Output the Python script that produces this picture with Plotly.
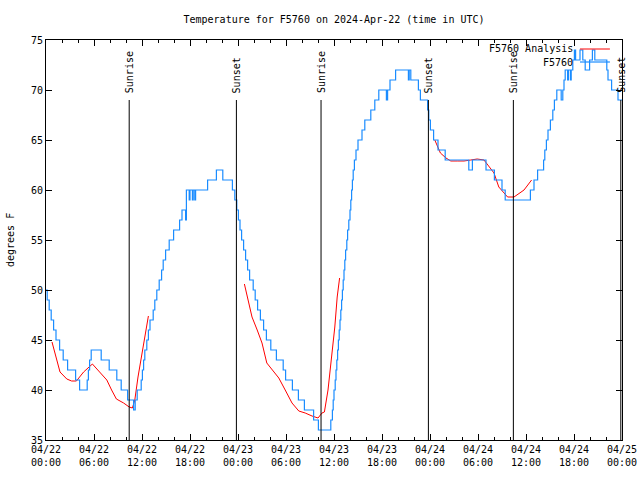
import pandas as pd
import plotly.graph_objects as go

# ---------------- data (hours after 2024-04-22 00:00 UTC) ----------------
blue_hours = [0.0, 0.15, 0.4, 0.65, 0.95, 1.25, 1.7, 2.15, 2.7, 3.7, 4.2, 5.15, 5.3, 5.45, 5.65,
              6.9, 7.9, 8.85, 9.4, 10.2, 10.95, 11.15, 11.4, 11.9, 12.05, 12.2, 12.35, 12.6, 12.8,
              13.0, 13.4, 13.6, 13.85, 14.15, 14.45, 14.65, 14.95, 15.4, 15.95, 16.7, 17.0, 17.45,
              17.55, 17.9, 18.0, 18.3, 18.4, 18.6, 18.7, 20.2, 21.3, 22.1, 23.3, 23.6, 23.85,
              24.05, 24.25, 24.45, 24.7, 24.95, 25.2, 25.45, 25.9, 26.15, 26.45, 26.8, 27.2, 27.55,
              28.1, 28.8, 29.65, 29.95, 30.8, 31.55, 32.3, 33.45, 34.05, 35.6, 35.8, 35.9, 36.0,
              36.15, 36.25, 36.35, 36.45, 36.55, 36.65, 36.75, 36.85, 36.95, 37.05, 37.15, 37.25,
              37.35, 37.45, 37.6, 37.7, 37.85, 38.0, 38.1, 38.2, 38.3, 38.4, 38.55, 38.75, 39.0,
              39.5, 39.85, 40.6, 41.1, 41.6, 42.55, 42.7, 43.0, 43.7, 45.3, 45.4, 45.6,
              46.55, 46.8, 47.7, 47.85, 48.05, 48.45, 49.0, 49.9, 52.85, 53.3, 55.0, 56.05,
              57.0, 57.4, 60.55, 61.0, 61.45, 62.2, 62.35, 62.55, 62.75, 63.05, 63.35, 63.55,
              63.85, 64.4, 64.6, 64.75, 64.9, 65.2, 65.3, 65.55, 65.65, 65.85, 66.05, 66.2, 66.75,
              67.1, 67.4, 67.95, 68.3, 68.6, 70.1, 70.25, 70.7, 71.5, 72.0]
blue_temps = [50, 49, 48, 47, 46, 45, 44, 43, 42, 41, 40, 41, 42, 43, 44,
              43, 42, 41, 40, 39, 38, 39, 40, 41, 42, 43, 44, 45, 46,
              47, 48, 49, 50, 51, 52, 53, 54, 55, 56, 57, 58, 57,
              60, 59, 60, 59, 60, 59, 60, 61, 62, 61, 60, 59, 58,
              57, 56, 55, 54, 53, 52, 51, 50, 49, 48, 47, 46, 45,
              44, 43, 42, 41, 40, 39, 38, 37, 36, 37, 38, 39, 40,
              41, 42, 43, 44, 45, 46, 47, 48, 49, 50, 51, 52,
              53, 54, 55, 56, 57, 58, 59, 60, 61, 62, 63, 64, 65,
              66, 67, 68, 69, 70, 69, 70, 71, 72, 71, 72, 71,
              70, 69, 68, 67, 66, 65, 64, 63, 62, 63, 62, 61,
              60, 59, 60, 61, 62, 63, 64, 65, 66, 67, 68, 69,
              70, 69, 70, 71, 72, 71, 72, 71, 72, 73, 74, 73, 74,
              73, 72, 73, 74, 73, 72, 71, 70, 69, 69]

red_hours = [0.75, 1.25, 1.75, 2.6, 3.2, 3.8, 4.7, 5.8, 6.75, 7.6, 8.2, 8.8, 9.7, 10.4, 10.8,
             11.1, 11.5, 12.2, 12.8, None,
             24.8, 25.25, 25.75, 26.4, 27.0, 27.6, 28.25, 29.1, 29.9, 30.75, 31.6, 32.4, 33.25,
             34.0, 34.5, 34.8, 35.25, 35.7, 36.1, 36.4, 36.7, None,
             48.6, 49.3, 50.0, 50.6, 51.4, 52.25, 53.1, 53.9, 54.75, 55.4, 56.0, 56.6, 57.25,
             57.7, 58.5, 59.1, 59.75, 60.7]
red_temps = [44.8, 43.3, 41.8, 41.1, 40.9, 40.9, 41.8, 42.6, 41.8, 41.0, 40.0, 39.1, 38.7, 38.3, 38.2,
             39.0, 41.3, 44.7, 47.4, None,
             50.6, 49.0, 47.3, 46.0, 44.7, 42.7, 42.0, 41.2, 40.0, 38.7, 37.9, 37.7, 37.4,
             37.2, 37.7, 37.8, 40.0, 43.3, 46.3, 49.3, 51.2, None,
             65.0, 63.7, 63.2, 62.9, 62.9, 62.9, 63.0, 63.1, 63.0, 62.3, 61.7, 60.3, 59.7,
             59.3, 59.3, 59.6, 60.0, 61.0]

sun_labels = ["Sunrise", "Sunset", "Sunrise", "Sunset", "Sunrise", "Sunset"]
sun_hours = [10.4, 23.8, 34.38, 47.8, 58.42, 71.85]

tick_hours = [0, 6, 12, 18, 24, 30, 36, 42, 48, 54, 60, 66, 72]
tick_labels = ["04/22<br>00:00", "04/22<br>06:00", "04/22<br>12:00", "04/22<br>18:00",
               "04/23<br>00:00", "04/23<br>06:00", "04/23<br>12:00", "04/23<br>18:00",
               "04/24<br>00:00", "04/24<br>06:00", "04/24<br>12:00", "04/24<br>18:00",
               "04/25<br>00:00"]

# ---------------- figure ----------------
base = pd.Timestamp("2024-04-22 00:00")


def to_time(hours):
    return [None if h is None else base + pd.Timedelta(hours=h) for h in hours]


FONT = "DejaVu Sans Mono"
BLUE = "#1a8cff"
RED = "#ff0000"

fig = go.Figure()
fig.add_trace(go.Scatter(x=to_time(red_hours), y=red_temps, mode="lines",
                         line=dict(color=RED, width=1), name="F5760 Analysis",
                         connectgaps=False, showlegend=False))
fig.add_trace(go.Scatter(x=to_time(blue_hours), y=blue_temps, mode="lines",
                         line=dict(color=BLUE, width=1.2, shape="hv"), name="F5760",
                         showlegend=False))

for lab, h in zip(sun_labels, sun_hours):
    tt = base + pd.Timedelta(hours=h)
    fig.add_shape(type="line", xref="x", yref="y", x0=tt, x1=tt, y0=35, y1=69,
                  line=dict(color="black", width=1))
    fig.add_annotation(x=tt, y=69, xref="x", yref="y", text=lab, textangle=-90,
                       showarrow=False, xanchor="center", yanchor="bottom", yshift=5,
                       font=dict(family=FONT, size=10, color="black"))

# manual gnuplot-style legend (text then sample line)
fig.add_annotation(x=0.9184, y=0.9775, xref="paper", yref="paper", text="F5760 Analysis",
                   showarrow=False, xanchor="right", yanchor="middle",
                   font=dict(family=FONT, size=10, color="black"))
fig.add_shape(type="line", xref="paper", yref="paper", x0=0.927, x1=0.979, y0=0.9775, y1=0.9775,
              line=dict(color=RED, width=1))
fig.add_annotation(x=0.9184, y=0.945, xref="paper", yref="paper", text="F5760",
                   showarrow=False, xanchor="right", yanchor="middle",
                   font=dict(family=FONT, size=10, color="black"))
fig.add_shape(type="line", xref="paper", yref="paper", x0=0.927, x1=0.979, y0=0.945, y1=0.945,
              line=dict(color=BLUE, width=1.2))

# y-axis label
fig.add_annotation(x=-0.0625, y=0.5, xref="paper", yref="paper", text="degrees F",
                   textangle=-90, showarrow=False, xanchor="center", yanchor="middle",
                   font=dict(family=FONT, size=10, color="black"))

fig.update_layout(
    width=640, height=480,
    margin=dict(l=46, r=18, t=40, b=40, autoexpand=False),
    paper_bgcolor="white", plot_bgcolor="white",
    font=dict(family=FONT, size=10, color="black"),
    title=dict(text="Temperature for F5760 on 2024-Apr-22 (time in UTC)", x=0.5, xref="paper",
               xanchor="center", y=1 - 19 / 480, yanchor="middle", automargin=False,
               font=dict(family=FONT, size=10, color="black")),
    showlegend=False,
)
fig.update_xaxes(
    type="date", automargin=False,
    range=[base, base + pd.Timedelta(hours=72)],
    tickmode="array", tickvals=to_time(tick_hours), ticktext=tick_labels,
    ticks="inside", ticklen=6, tickcolor="black", tickwidth=1,
    minor=dict(tickmode="linear", tick0=base, dtick=2 * 3600 * 1000, ticks="inside",
               ticklen=3, tickcolor="black", showgrid=False),
    showline=True, linecolor="black", linewidth=1, mirror="ticks",
    showgrid=False, zeroline=False,
    tickfont=dict(family=FONT, size=10, color="black"),
)
fig.update_yaxes(
    automargin=False,
    range=[35, 75], tickmode="linear", tick0=35, dtick=5,
    ticks="inside", ticklen=6, tickcolor="black", tickwidth=1,
    showline=True, linecolor="black", linewidth=1, mirror="ticks",
    showgrid=False, zeroline=False,
    tickfont=dict(family=FONT, size=10, color="black"),
)

fig.write_html("out.html", config={"displayModeBar": False},
               post_script="document.body.style.margin='0';document.body.style.overflow='hidden';")
